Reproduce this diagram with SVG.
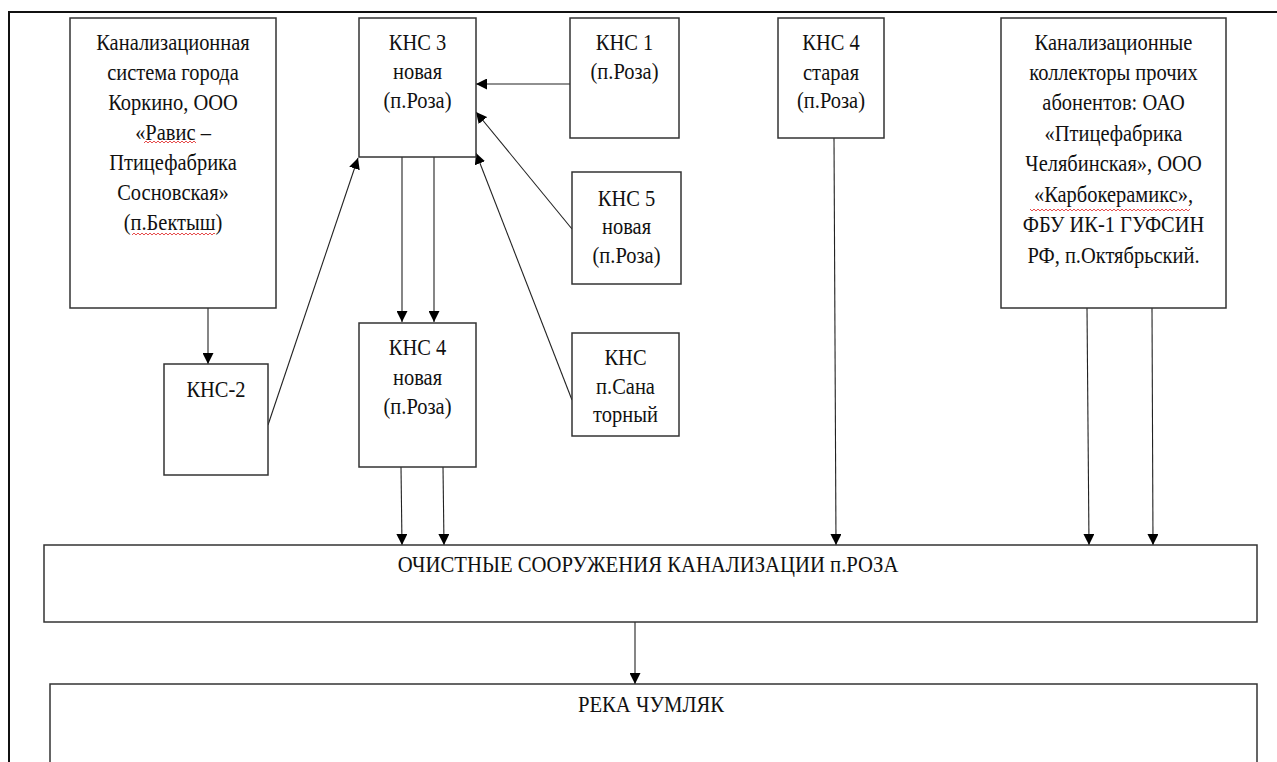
<svg xmlns="http://www.w3.org/2000/svg" width="1277" height="762" viewBox="0 0 1277 762">
<style>
.box{fill:#fff;stroke:#333;stroke-width:1.5}
.t{font-family:"Liberation Serif","Times New Roman",serif;font-size:23px;fill:#111;text-anchor:middle}
.c{stroke:#222;stroke-width:1.1;fill:none;marker-end:url(#ah)}
.sq{fill:url(#wave)}
</style>
<defs>
<marker id="ah" markerUnits="userSpaceOnUse" markerWidth="11" markerHeight="11" refX="11" refY="5.5" orient="auto">
<path d="M0,0 L11,5.5 L0,11 z" fill="#000"/>
</marker>
<pattern id="wave" width="4" height="4" patternUnits="userSpaceOnUse">
<path d="M0 3 L2 1 L4 3" stroke="#e02020" stroke-width="0.8" fill="none"/>
</pattern>
</defs>
<rect width="1277" height="762" fill="#fff"/>
<g id="frame">
<path d="M9 762 V12 H1277" fill="none" stroke="#111" stroke-width="2"/>
</g>
<g id="connectors">
<line class="c" x1="208" y1="308" x2="208" y2="364"/>
<line class="c" x1="268" y1="425" x2="358" y2="158"/>
<line class="c" x1="570" y1="84" x2="476" y2="84"/>
<line class="c" x1="572" y1="229" x2="476" y2="112"/>
<line class="c" x1="572" y1="400" x2="476" y2="153"/>
<line class="c" x1="402" y1="157" x2="402" y2="322"/>
<line class="c" x1="434" y1="157" x2="434" y2="322"/>
<line class="c" x1="401" y1="467" x2="402" y2="545"/>
<line class="c" x1="443" y1="467" x2="444" y2="545"/>
<line class="c" x1="834" y1="138" x2="836" y2="545"/>
<line class="c" x1="1087" y1="308" x2="1089" y2="545"/>
<line class="c" x1="1152" y1="308" x2="1153" y2="545"/>
<line class="c" x1="635" y1="622" x2="635" y2="684"/>
</g>
<g id="korkino">
<rect class="box" x="70" y="18" width="206" height="290"/>
<g transform="translate(173 0) scale(0.89 1)">
<text class="t" x="0" y="50">Канализационная</text>
<text class="t" x="0" y="80">система города</text>
<text class="t" x="0" y="110">Коркино, ООО</text>
<text class="t" x="0" y="140">«Равис –</text>
<text class="t" x="0" y="170">Птицефабрика</text>
<text class="t" x="0" y="200">Сосновская»</text>
<text class="t" x="0" y="230">(п.Бектыш)</text>
</g>
<rect class="sq" x="144" y="140" width="52" height="4"/>
<rect class="sq" x="132" y="231" width="83" height="4"/>
</g>
<g id="kns3">
<rect class="box" x="359" y="18" width="117" height="139"/>
<g transform="translate(417.5 0) scale(0.89 1)">
<text class="t" x="0" y="50">КНС 3</text>
<text class="t" x="0" y="79">новая</text>
<text class="t" x="0" y="108">(п.Роза)</text>
</g>
</g>
<g id="kns1">
<rect class="box" x="570" y="18" width="109" height="120"/>
<g transform="translate(624.5 0) scale(0.89 1)">
<text class="t" x="0" y="50">КНС 1</text>
<text class="t" x="0" y="79">(п.Роза)</text>
</g>
</g>
<g id="kns4old">
<rect class="box" x="778" y="18" width="106" height="120"/>
<g transform="translate(831 0) scale(0.89 1)">
<text class="t" x="0" y="50">КНС 4</text>
<text class="t" x="0" y="80">старая</text>
<text class="t" x="0" y="108">(п.Роза)</text>
</g>
</g>
<g id="collectors">
<rect class="box" x="1001" y="18" width="225" height="290"/>
<g transform="translate(1113.5 0) scale(0.89 1)">
<text class="t" x="0" y="50">Канализационные</text>
<text class="t" x="0" y="80">коллекторы прочих</text>
<text class="t" x="0" y="110">абонентов: ОАО</text>
<text class="t" x="0" y="141">«Птицефабрика</text>
<text class="t" x="0" y="171">Челябинская», ООО</text>
<text class="t" x="0" y="202">«Карбокерамикс»,</text>
<text class="t" x="0" y="232">ФБУ ИК-1 ГУФСИН</text>
<text class="t" x="0" y="263">РФ, п.Октябрьский.</text>
</g>
<rect class="sq" x="1030" y="208" width="160" height="4"/>
</g>
<g id="kns5">
<rect class="box" x="572" y="172" width="109" height="112"/>
<g transform="translate(626.5 0) scale(0.89 1)">
<text class="t" x="0" y="206">КНС 5</text>
<text class="t" x="0" y="234">новая</text>
<text class="t" x="0" y="263">(п.Роза)</text>
</g>
</g>
<g id="kns2">
<rect class="box" x="164" y="364" width="104" height="111"/>
<g transform="translate(216 0) scale(0.89 1)">
<text class="t" x="0" y="397">КНС-2</text>
</g>
</g>
<g id="kns4new">
<rect class="box" x="359" y="323" width="117" height="144"/>
<g transform="translate(417.5 0) scale(0.89 1)">
<text class="t" x="0" y="355">КНС 4</text>
<text class="t" x="0" y="385">новая</text>
<text class="t" x="0" y="414">(п.Роза)</text>
</g>
</g>
<g id="sanatorny">
<rect class="box" x="572" y="333" width="107" height="103"/>
<g transform="translate(625.5 0) scale(0.89 1)">
<text class="t" x="0" y="365">КНС</text>
<text class="t" x="0" y="394">п.Сана</text>
<text class="t" x="0" y="422">торный</text>
</g>
</g>
<g id="ochistnye">
<rect class="box" x="44" y="545" width="1213" height="77"/>
<g transform="translate(648 0) scale(0.9 1)">
<text class="t" x="0" y="572">ОЧИСТНЫЕ СООРУЖЕНИЯ КАНАЛИЗАЦИИ п.РОЗА</text>
</g>
</g>
<g id="reka">
<path class="box" d="M50 770 V684 H1257 V770"/>
<g transform="translate(651 0) scale(0.9 1)">
<text class="t" x="0" y="712">РЕКА ЧУМЛЯК</text>
</g>
</g>
</svg>
